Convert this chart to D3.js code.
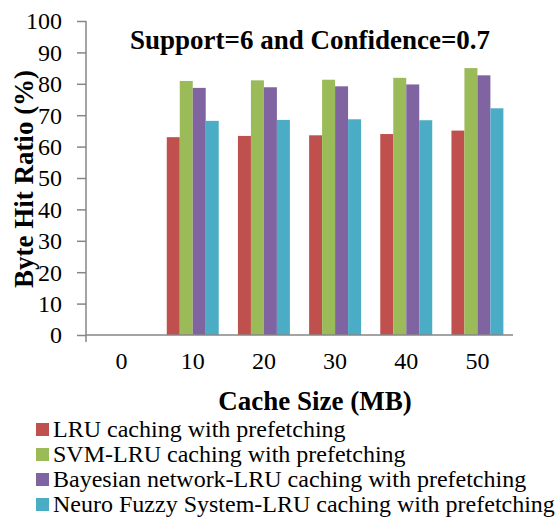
<!DOCTYPE html>
<html>
<head>
<meta charset="utf-8">
<script src="https://cdnjs.cloudflare.com/ajax/libs/d3/7.8.5/d3.min.js"></script>
<style>
  body { margin: 0; background: #fff; }
  svg text { font-family: "Liberation Serif", "Times New Roman", serif; }
</style>
</head>
<body>
<svg width="555" height="517"></svg>
<script>
// chart data
var categories = ["0", "10", "20", "30", "40", "50"];
var seriesNames = [
    "LRU caching with prefetching",
    "SVM-LRU caching with prefetching",
    "Bayesian network-LRU caching with prefetching",
    "Neuro Fuzzy System-LRU caching with prefetching"
];
var lruValues      = [null, 63.0, 63.4, 63.6, 64.0, 65.1];
var svmValues      = [null, 80.9, 81.1, 81.3, 81.9, 85.0];
var bayesValues    = [null, 78.7, 78.9, 79.2, 79.8, 82.7];
var neuroValues    = [null, 68.2, 68.5, 68.7, 68.4, 72.2];
var yTicks = [0, 10, 20, 30, 40, 50, 60, 70, 80, 90, 100];

var colors = ["#c0504d", "#9bbb59", "#8064a2", "#4bacc6"];
var seriesValues = [lruValues, svmValues, bayesValues, neuroValues];

var svg = d3.select("svg");
var plotLeft = 86, plotRight = 513, plotTop = 21, plotBottom = 335;

let xScale = d3.scaleBand()
    .domain(categories)
    .range([plotLeft, plotRight])
    .paddingInner(0.27)
    .paddingOuter(0.135);

let innerScale = d3.scaleBand()
    .domain(seriesNames)
    .range([0, xScale.bandwidth()]);

let yScale = d3.scaleLinear()
    .domain([0, 100])
    .range([plotBottom, plotTop]);

// bars
let rows = [];
categories.forEach(function (c, i) {
    seriesNames.forEach(function (s, j) {
        if (seriesValues[j][i] != null) {
            rows.push({cat: c, series: s, value: seriesValues[j][i], color: colors[j]});
        }
    });
});

svg.append("g").selectAll("rect")
    .data(rows)
    .enter()
    .append("rect")
    .attr("x", function (d) { return xScale(d.cat) + innerScale(d.series); })
    .attr("y", function (d) { return yScale(d.value); })
    .attr("width", innerScale.bandwidth())
    .attr("height", function (d) { return plotBottom - yScale(d.value); })
    .attr("fill", function (d) { return d.color; });

// y axis
let yAxis = d3.axisLeft(yScale)
    .tickValues(yTicks)
    .tickSize(9)
    .tickPadding(15);
let yGroup = svg.append("g")
    .attr("transform", "translate(" + plotLeft + ",0)")
    .call(yAxis);
yGroup.select(".domain").remove();
yGroup.append("line")
    .attr("x1", 0).attr("x2", 0)
    .attr("y1", plotTop).attr("y2", plotBottom + 7)
    .attr("stroke", "#868686").attr("stroke-width", 1.5);
yGroup.selectAll(".tick line").attr("stroke", "#868686").attr("stroke-width", 1.5);
yGroup.selectAll(".tick text")
    .attr("fill", "#000")
    .style("font-size", "24px")
    .attr("dy", "0.33em");

// x axis
let xAxis = d3.axisBottom(xScale).tickSize(0).tickPadding(20);
let xGroup = svg.append("g")
    .attr("transform", "translate(0," + plotBottom + ")")
    .call(xAxis);
xGroup.select(".domain")
    .attr("stroke", "#868686").attr("stroke-width", 1.5)
    .attr("d", "M" + plotLeft + ",0H" + plotRight);
xGroup.selectAll(".tick text")
    .attr("fill", "#000")
    .style("font-size", "24px")
    .attr("dy", "0.6em");

// titles
svg.append("text")
    .attr("x", 310).attr("y", 49)
    .attr("text-anchor", "middle")
    .style("font-size", "27px").style("font-weight", "bold")
    .text("Support=6 and Confidence=0.7");

svg.append("text")
    .attr("x", 315).attr("y", 410)
    .attr("text-anchor", "middle")
    .style("font-size", "27px").style("font-weight", "bold")
    .text("Cache Size (MB)");

svg.append("text")
    .attr("transform", "translate(33,179)rotate(-90)")
    .attr("text-anchor", "middle")
    .style("font-size", "27px").style("font-weight", "bold")
    .text("Byte Hit Ratio (%)");

// legend
let legend = svg.append("g").selectAll("g")
    .data(seriesNames)
    .enter()
    .append("g")
    .attr("transform", function (d, i) { return "translate(36," + (437 + i * 25) + ")"; });
legend.append("rect")
    .attr("x", 0).attr("y", -14)
    .attr("width", 13).attr("height", 13)
    .attr("fill", function (d, i) { return colors[i]; });
legend.append("text")
    .attr("x", 17).attr("y", 0)
    .style("font-size", "24px")
    .text(function (d) { return d; });
</script>
</body>
</html>
